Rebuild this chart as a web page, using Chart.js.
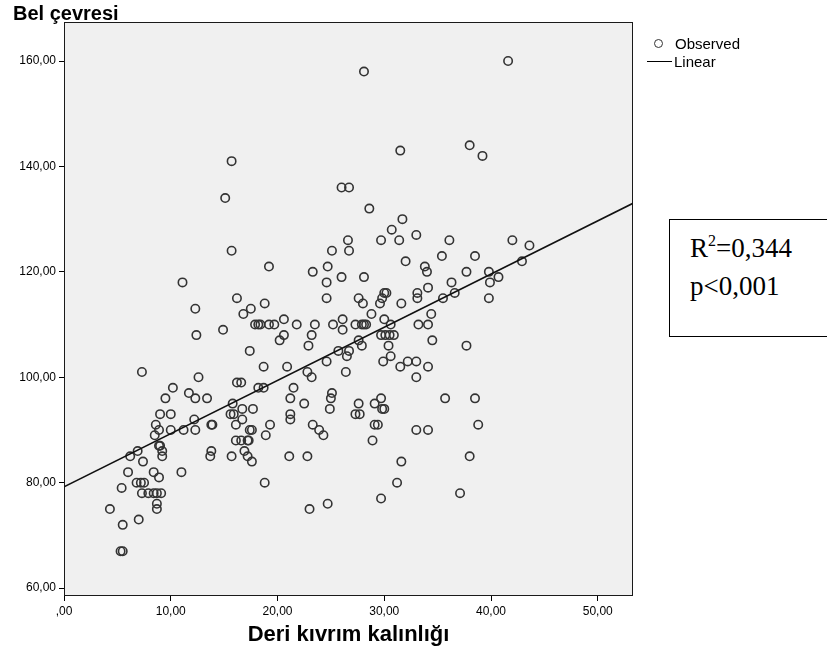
<!DOCTYPE html>
<html lang="tr">
<head>
<meta charset="utf-8">
<title>Bel çevresi / Deri kıvrım kalınlığı</title>
<script src="https://cdn.jsdelivr.net/npm/chart.js@4.4.1/dist/chart.umd.min.js"></script>
<style>
  html, body { margin: 0; padding: 0; background: #fff; }
  #wrap { position: relative; width: 827px; height: 655px; overflow: hidden; }
  #chart { position: absolute; left: 0; top: 0; }
  .ytitle { position: absolute; left: 13px; top: 2px; font: bold 20px 'Liberation Sans', Arial, sans-serif; color: #000; }
  .leg { position: absolute; font: 15px 'Liberation Sans', Arial, sans-serif; color: #000; line-height: 16px; }
  .leg-dot { position: absolute; left: 654px; top: 39px; width: 7px; height: 7px; border: 1.5px solid #333; border-radius: 50%; }
  .leg-line { position: absolute; left: 647px; top: 61px; width: 25px; border-top: 1.5px solid #000; }
  .stats { position: absolute; left: 669px; top: 219px; width: 170px; height: 116px; border: 1.5px solid #000; background: #fff;
           font: 27px 'Liberation Serif', 'Times New Roman', serif; color: #000; }
  .stats div { position: absolute; left: 20px; line-height: 30px; }
  .stats sup { font-size: 16px; vertical-align: 11px; line-height: 0; }
</style>
</head>
<body>
<div id="wrap">
  <canvas id="chart" width="827" height="655"></canvas>
  <div class="ytitle">Bel çevresi</div>
  <div class="leg-dot"></div>
  <div class="leg" style="left:675px; top:36px;">Observed</div>
  <div class="leg-line"></div>
  <div class="leg" style="left:674px; top:54px;">Linear</div>
  <div class="stats">
    <div style="top:13px;">R<sup>2</sup>=0,344</div>
    <div style="top:51px;">p&lt;0,001</div>
  </div>
</div>
<script>
// Deri kıvrım kalınlığı (x) / Bel çevresi (y), okunan değerler
const obsX = [
  15.7, 15.1, 28.1, 31.5, 26.0, 26.7, 28.6, 31.7, 41.6, 38.0, 39.2,
  15.7, 11.1, 16.2, 17.5, 16.8, 12.3, 17.9, 14.9, 12.4, 17.4, 7.3, 12.6,
  30.7, 29.7, 31.4, 26.6, 25.1, 26.7, 32.0, 19.2, 23.3, 24.7, 24.6, 26.0, 28.1, 24.6, 30.2, 30.0, 27.6, 28.0,
  29.6, 29.8, 31.6, 18.8, 28.8, 20.6, 18.2, 18.4, 19.2, 19.7, 21.8, 23.5, 25.2, 26.1, 27.3, 27.9, 28.1, 28.3,
  30.0, 30.6, 26.1, 20.6, 20.2, 23.2, 22.9, 27.6, 27.9, 29.7, 30.1, 30.5, 30.9, 30.4, 25.7, 26.7, 26.5, 24.6,
  30.6, 29.9, 32.2, 31.5, 18.7, 20.9, 22.8, 23.2, 26.4,
  33.0, 36.1, 42.0, 43.6, 35.4, 38.5, 42.9, 33.8, 34.0, 37.7, 39.8, 40.7, 39.9, 36.3, 34.1, 33.1, 33.1, 36.6,
  35.5, 39.8, 34.4, 33.2, 34.1, 34.5, 37.7, 33.0, 34.1, 33.0,
  16.2, 16.6, 10.2, 11.7, 12.3, 9.5, 13.4, 15.8, 9.0, 10.0, 15.6, 15.9, 16.7, 17.7, 12.2, 16.7, 8.6, 13.8, 13.9,
  16.1, 8.9, 10.0, 11.2, 12.3, 17.4, 17.6, 8.5, 16.1, 16.6, 17.2, 17.3, 8.9, 9.0, 9.2, 6.9, 9.2, 6.2, 13.8, 13.7,
  15.7, 16.9, 17.2, 17.6, 7.4, 6.0, 8.4, 8.9, 11.0, 5.4, 6.8, 7.2, 7.5, 7.3, 7.9, 8.4, 8.7, 9.1, 8.7, 8.7, 4.3,
  7.0, 5.5, 5.3, 5.5,
  18.2, 18.7, 21.5, 21.2, 22.5, 25.1, 25.0, 24.9, 21.2, 21.2, 19.3, 18.9, 23.3, 23.9, 24.3, 27.6, 27.3, 27.7,
  29.1, 29.7, 29.8, 30.0, 29.1, 29.4, 28.9, 21.1, 22.8, 18.8, 31.6, 31.2, 29.7, 24.7, 23.0,
  35.7, 38.5, 33.0, 34.1, 38.8, 38.0, 37.1
];
const obsY = [
  141, 134, 158, 143, 136, 136, 132, 130, 160, 144, 142,
  124, 118, 115, 113, 112, 113, 110, 109, 108, 105, 101, 100,
  128, 126, 126, 126, 124, 124, 122, 121, 120, 121, 118, 119, 119, 115, 116, 116, 115, 114,
  114, 115, 114, 114, 112, 111, 110, 110, 110, 110, 110, 110, 110, 111, 110, 110, 110, 110,
  111, 110, 109, 108, 107, 108, 106, 107, 106, 108, 108, 108, 108, 106, 105, 105, 104, 103,
  104, 103, 103, 102, 102, 102, 101, 100, 101,
  127, 126, 126, 125, 123, 123, 122, 121, 120, 120, 120, 119, 118, 118, 117, 116, 115, 116,
  115, 115, 112, 110, 110, 107, 106, 103, 102, 100,
  99, 99, 98, 97, 96, 96, 96, 95, 93, 93, 93, 93, 94, 94, 92, 92, 91, 91, 91,
  91, 90, 90, 90, 90, 90, 90, 89, 88, 88, 88, 88, 87, 87, 86, 86, 85, 85, 86, 85,
  85, 86, 85, 84, 84, 82, 82, 81, 82, 79, 80, 80, 80, 78, 78, 78, 78, 78, 76, 75, 75,
  73, 72, 67, 67,
  98, 98, 98, 96, 95, 97, 96, 94, 93, 92, 91, 89, 91, 90, 89, 95, 93, 93,
  95, 96, 94, 94, 91, 91, 88, 85, 85, 80, 84, 80, 77, 76, 75,
  96, 96, 90, 90, 91, 85, 78
];

// doğrusal uyum: uç noktalar
const fitX = [0, 53.3];
const fitY = [79.2, 133.0];

const xTicks = [0, 10, 20, 30, 40, 50];
const yTicks = [60, 80, 100, 120, 140, 160];
const xRange = [0, 53.3];
const yRange = [58.5, 167.4];

const FONT = "'Liberation Sans', Arial, sans-serif";

// SPSS tarzı: 10,00 / ,00
function fmt(v) {
  if (v === 0) return ',00';
  return v.toFixed(2).replace('.', ',');
}

const points = obsX.map((x, i) => ({ x, y: obsY[i] }));
const fitLine = fitX.map((x, i) => ({ x, y: fitY[i] }));

// çizim alanı: gri zemin + çerçeve
const plotFrame = {
  id: 'plotFrame',
  beforeDatasetsDraw(chart) {
    const { ctx, chartArea: a } = chart;
    ctx.save();
    ctx.fillStyle = '#f0f0f0';
    ctx.fillRect(a.left, a.top, a.right - a.left, a.bottom - a.top);
    ctx.strokeStyle = '#1a1a1a';
    ctx.lineWidth = 1;
    ctx.strokeRect(a.left + 0.5, a.top + 0.5, a.right - a.left - 1, a.bottom - a.top - 1);
    ctx.restore();
  },
};

new Chart(document.getElementById('chart'), {
  type: 'scatter',
  data: {
    datasets: [
      {
        type: 'line',
        label: 'Linear',
        data: fitLine,
        borderColor: '#111',
        borderWidth: 1.6,
        pointRadius: 0,
        fill: false,
        order: 1,
      },
      {
        label: 'Observed',
        data: points,
        pointStyle: 'circle',
        pointRadius: 4.2,
        pointBorderWidth: 1.6,
        pointBorderColor: '#333',
        pointBackgroundColor: 'rgba(0,0,0,0)',
        order: 2,
      },
    ],
  },
  plugins: [plotFrame],
  options: {
    responsive: false,
    animation: false,
    devicePixelRatio: 1,
    layout: { padding: { top: 22, right: 194, left: 0, bottom: 0 } },
    plugins: { legend: { display: false }, tooltip: { enabled: false } },
    scales: {
      x: {
        type: 'linear',
        min: xRange[0],
        max: xRange[1],
        afterBuildTicks: (s) => { s.ticks = xTicks.map((v) => ({ value: v })); },
        afterFit: (s) => { s.height = 59; },
        ticks: { callback: fmt, color: '#000', font: { family: FONT, size: 12 }, padding: 3, maxRotation: 0 },
        grid: { drawOnChartArea: false, drawTicks: true, tickLength: 5, color: '#000' },
        border: { display: false },
        title: {
          display: true,
          text: 'Deri kıvrım kalınlığı',
          color: '#000',
          font: { family: FONT, size: 22, weight: 'bold', lineHeight: 1 },
          padding: { top: 0, bottom: 9 },
        },
      },
      y: {
        type: 'linear',
        min: yRange[0],
        max: yRange[1],
        afterBuildTicks: (s) => { s.ticks = yTicks.map((v) => ({ value: v })); },
        afterFit: (s) => { s.width = 64; },
        ticks: { callback: fmt, color: '#000', font: { family: FONT, size: 12 }, padding: 3 },
        grid: { drawOnChartArea: false, drawTicks: true, tickLength: 5, color: '#000' },
        border: { display: false },
      },
    },
  },
});
</script>
</body>
</html>
